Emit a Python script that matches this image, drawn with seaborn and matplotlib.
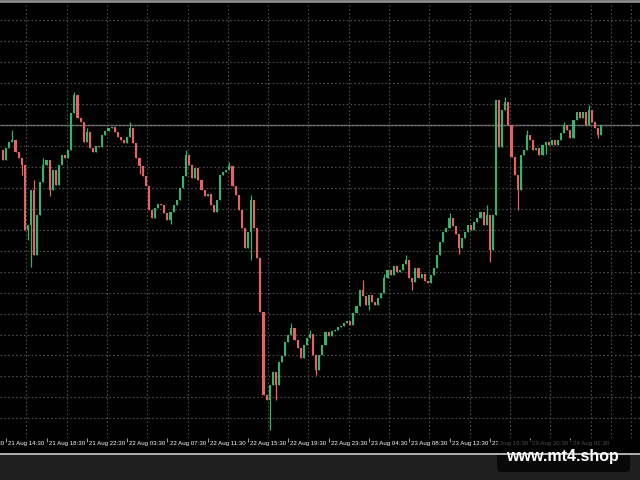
# MT4 style candlestick chart, 21-24 Aug
import numpy as np
import matplotlib
matplotlib.use("Agg")
import matplotlib.pyplot as plt
from matplotlib.patches import Rectangle, FancyBboxPatch
from matplotlib.lines import Line2D
import seaborn as sns

sns.set_theme(style="dark", rc={"axes.facecolor": "black", "figure.facecolor": "black",
                                "axes.edgecolor": "black", "grid.color": "#4d4d4d"})
plt.rcParams['font.family'] = ['Liberation Sans', 'DejaVu Sans']

# --- data (price in points) ---
first_open = 330
closes = [
    320, 332, 338, 340, 328, 322, 315, 250, 255, 290,
    225, 265, 298, 315, 320, 290, 310, 295, 315, 325,
    322, 330, 367, 385, 362, 358, 338, 348, 332, 328,
    334, 333, 345, 349, 352, 353, 348, 343, 340, 337,
    343, 352, 337, 322, 314, 304, 294, 270, 262, 272,
    276, 275, 267, 260, 268, 275, 280, 292, 304, 325,
    315, 302, 312, 300, 290, 284, 286, 275, 268, 280,
    305, 308, 310, 314, 294, 285, 270, 252, 232, 248,
    280, 252, 222, 168, 85, 80, 95, 108, 95, 118,
    124, 138, 145, 152, 140, 132, 122, 135, 142, 146,
    125, 110, 125, 135, 148, 144, 149, 150, 153, 154,
    157, 159, 155, 167, 174, 190, 184, 175, 185, 178,
    175, 182, 187, 202, 210, 205, 214, 208, 210, 216,
    220, 202, 198, 212, 202, 206, 199, 197, 205, 212,
    225, 238, 248, 252, 262, 254, 246, 232, 242, 248,
    255, 250, 258, 262, 268, 255, 265, 230, 265, 380,
    333, 370, 378, 355, 323, 305, 290, 325, 330, 345,
    340, 330, 332, 325, 335, 338, 335, 340, 335, 340,
    347, 355, 350, 342, 360, 368, 362, 368, 355, 370,
    358, 352, 345, 355,
]
# long shadows that stick out of the bodies
wick_highs = {3: 350, 10: 300, 13: 322, 23: 388, 27: 352, 41: 358, 59: 330,
              63: 306, 73: 318, 80: 285, 93: 157, 99: 150, 116: 200, 123: 206,
              130: 225, 144: 267, 156: 275, 162: 383, 169: 350, 181: 358, 189: 375}
wick_lows = {6: 305, 8: 240, 9: 213, 15: 284, 44: 306, 54: 256, 80: 220, 86: 50,
             88: 80, 101: 105, 118: 170, 132: 190, 147: 226, 157: 218, 166: 270,
             175: 326, 192: 342}

tick_bars = [-12, 1, 14, 27, 40, 53, 66, 79, 92, 105, 118, 131, 144, 157, 170, 183]
tick_labels = ["21 Aug 10:30", "21 Aug 14:30", "21 Aug 18:30", "21 Aug 22:30",
               "22 Aug 03:30", "22 Aug 07:30", "22 Aug 11:30", "22 Aug 15:30",
               "22 Aug 19:30", "22 Aug 23:30", "23 Aug 04:30", "23 Aug 08:30",
               "23 Aug 12:30", "23 Aug 16:30", "23 Aug 20:30", "24 Aug 01:30"]

# --- build OHLC ---
closes = np.array(closes, dtype=float)
opens = np.concatenate([[first_open], closes[:-1]])
idx = np.arange(len(closes))
highs = np.maximum(opens, closes)
lows = np.minimum(opens, closes)
for k, v in wick_highs.items():
    highs[k] = max(highs[k], v)
for k, v in wick_lows.items():
    lows[k] = min(lows[k], v)

up_color = "#34b36c"
down_color = "#e8625f"
colors = np.where(closes >= opens, up_color, down_color)

# --- figure ---
fig = plt.figure(figsize=(6.4, 4.8), dpi=100)
ax = fig.add_axes([0, 42 / 480, 1, 433 / 480])

ax.vlines(idx, lows, highs, colors=colors, linewidth=0.9)
body_bottom = np.minimum(opens, closes)
body_height = np.maximum(np.abs(closes - opens), 1.0)
ax.bar(idx, body_height, bottom=body_bottom, width=0.7, color=colors, linewidth=0)

# bid line at last price
ax.axhline(closes[-1], color="#7d7d7d", linewidth=1.0, zorder=0.5)

# grid like MT4
ax.set_yticks(np.arange(355 - 20.95 * 14, 476, 20.95))
ax.set_xticks(np.arange(-12, 206, 6.5), minor=True)
ax.set_xticks([b for b in tick_bars if b >= 0])
ax.set_xticklabels([])
ax.set_yticklabels([])
ax.set_xlim(-1, 640 / 3.1 - 1)
ax.set_ylim(42, 475)
ax.grid(False)
ax.grid(which="major", axis="y", linestyle=(0, (1.5, 2.0)), linewidth=0.8, color="#4d4d4d")
ax.grid(which="minor", axis="x", linestyle=(0, (1.5, 2.0)), linewidth=0.8, color="#4d4d4d")
ax.tick_params(axis="x", which="major", direction="out", length=3, width=0.6,
               color="#bbbbbb", bottom=True)
ax.tick_params(axis="x", which="minor", length=0)
ax.tick_params(axis="y", length=0)
for s in ax.spines.values():
    s.set_visible(False)

for b, lab in zip(tick_bars, tick_labels):
    ax.text(b + 0.7, -0.008, lab, transform=ax.get_xaxis_transform(), ha="left", va="top",
            fontsize=4.4, color="white", clip_on=False)

# window frame pieces
fig.add_artist(Rectangle((0, 0), 1, 25 / 480, transform=fig.transFigure,
                         facecolor="#1e1e1e", edgecolor="none"))
fig.add_artist(Line2D([0, 1], [26 / 480, 26 / 480], transform=fig.transFigure,
                      color="#cfcfcf", linewidth=1.2))
fig.add_artist(Line2D([0, 1], [479 / 480, 479 / 480], transform=fig.transFigure,
                      color="#8c8c8c", linewidth=2.0))

# watermark
fig.add_artist(FancyBboxPatch((497 / 640, 8 / 480), 133 / 640, 32 / 480,
                              boxstyle="round,pad=0,rounding_size=0.008",
                              transform=fig.transFigure, facecolor="black",
                              edgecolor="none", alpha=0.7))
fig.text(562 / 640, 23 / 480, "www.mt4.shop", ha="center", va="center",
         fontsize=11.5, fontweight="bold", color="white")

fig.savefig("out.png", dpi=100, facecolor="black")
